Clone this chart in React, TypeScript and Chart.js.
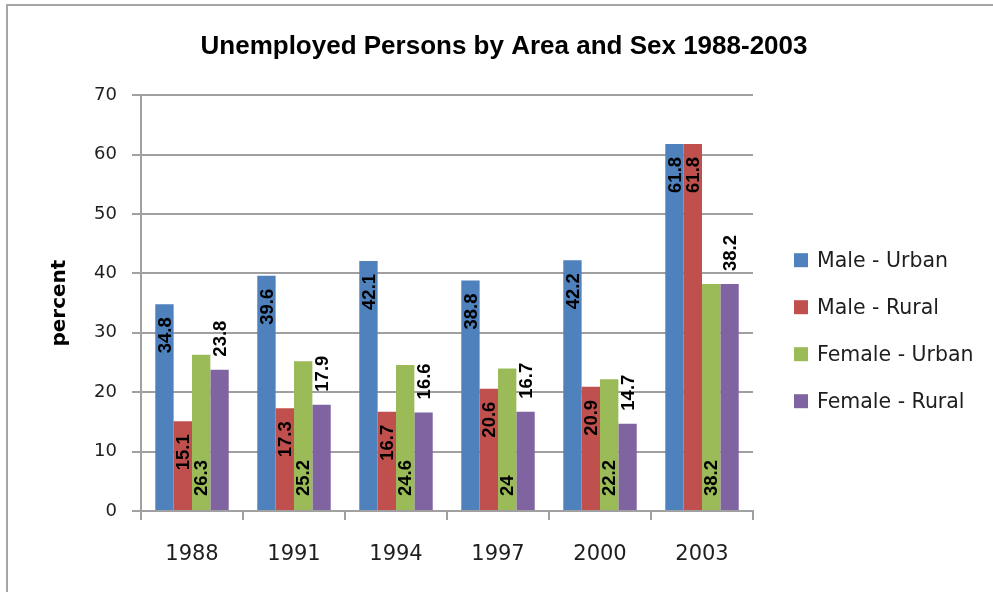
import React, { useEffect, useRef } from 'react';
import { Chart, registerables } from 'chart.js';

Chart.register(...registerables);

const years = ['1988', '1991', '1994', '1997', '2000', '2003'];
const maleUrban = [34.8, 39.6, 42.1, 38.8, 42.2, 61.8];
const maleRural = [15.1, 17.3, 16.7, 20.6, 20.9, 61.8];
const femaleUrban = [26.3, 25.2, 24.6, 24, 22.2, 38.2];
const femaleRural = [23.8, 17.9, 16.6, 16.7, 14.7, 38.2];
const seriesNames = ['Male - Urban', 'Male - Rural', 'Female - Urban', 'Female - Rural'];
const seriesValues = [maleUrban, maleRural, femaleUrban, femaleRural];
const seriesColors = ['#4F81BD', '#C0504D', '#9BBB59', '#8064A2'];
const labelPlacement = ['insideEnd', 'insideEnd', 'insideBase', 'outsideEnd'];
const yTicks = [0, 10, 20, 30, 40, 50, 60, 70];

const GRID = '#a0a0a0';
const TEXT = '#1e1e1e';

const barLabelPlugin = {
  id: 'barLabels',
  afterDatasetsDraw(chart: any) {
    const { ctx } = chart;
    ctx.save();
    ctx.font = 'bold 18.5px "Liberation Sans", Arial, sans-serif';
    ctx.fillStyle = '#000';
    ctx.textBaseline = 'middle';
    chart.data.datasets.forEach((ds: any, di: number) => {
      const meta = chart.getDatasetMeta(di);
      const mode = labelPlacement[di];
      meta.data.forEach((bar: any, i: number) => {
        const v = ds.data[i];
        const text = String(v);
        let anchorY: number;
        let align: CanvasTextAlign;
        if (mode === 'insideEnd') {
          anchorY = bar.y + 13;
          align = 'right';
        } else if (mode === 'insideBase') {
          anchorY = bar.base - 14;
          align = 'left';
        } else {
          anchorY = bar.y - 13;
          align = 'left';
        }
        ctx.save();
        ctx.translate(bar.x, anchorY);
        ctx.rotate(-Math.PI / 2);
        ctx.textAlign = align;
        ctx.fillText(text, 0, 1);
        ctx.restore();
      });
    });
    ctx.restore();
  },
};

const sideLegendPlugin = {
  id: 'sideLegend',
  afterDraw(chart: any) {
    const { ctx, chartArea } = chart;
    const x0 = chartArea.right + 41;
    const y0 = chartArea.top + 165;
    const gap = 47;
    ctx.save();
    ctx.font = '20.5px "DejaVu Sans", sans-serif';
    ctx.textBaseline = 'middle';
    ctx.textAlign = 'left';
    chart.data.datasets.forEach((ds: any, i: number) => {
      const cy = y0 + i * gap;
      ctx.fillStyle = ds.backgroundColor;
      ctx.fillRect(x0, cy - 7, 14, 14);
      ctx.fillStyle = TEXT;
      ctx.fillText(ds.label, x0 + 23, cy + 1);
    });
    ctx.restore();
  },
};

export default function App() {
  const canvasRef = useRef<HTMLCanvasElement | null>(null);

  useEffect(() => {
    document.body.style.margin = '0';
    const canvas = canvasRef.current;
    if (!canvas) return;
    const chart = new Chart(canvas, {
      type: 'bar',
      data: {
        labels: years,
        datasets: seriesNames.map((name, i) => ({
          label: name,
          data: seriesValues[i],
          backgroundColor: seriesColors[i],
          borderWidth: 0,
          categoryPercentage: 0.72,
          barPercentage: 1.0,
          yAxisID: 'y',
        })),
      },
      options: {
        animation: false,
        responsive: false,
        maintainAspectRatio: false,
        devicePixelRatio: 1,
        layout: { padding: { left: 15, right: 0, top: 0, bottom: 0 } },
        plugins: {
          legend: { display: false },
          tooltip: { enabled: false },
          title: {
            display: true,
            text: 'Unemployed Persons by Area and Sex 1988-2003',
            color: '#000',
            font: { family: '"Liberation Sans", Arial, sans-serif', size: 26, weight: 'bold' },
            padding: { top: 31, bottom: 33 },
          },
        },
        scales: {
          x: {
            grid: {
              offset: true,
              drawOnChartArea: false,
              drawTicks: true,
              tickLength: 9,
              color: GRID,
              lineWidth: 2,
            },
            border: { display: true, color: GRID, width: 2 },
            ticks: {
              color: TEXT,
              font: { family: '"DejaVu Sans", sans-serif', size: 21 },
              padding: 22,
              maxRotation: 0,
            },
            afterFit: (scale: any) => {
              scale.height = 81;
            },
          },
          y: {
            position: 'left',
            min: 0,
            max: 70,
            afterBuildTicks: (scale: any) => {
              scale.ticks = yTicks.map((v) => ({ value: v }));
            },
            grid: {
              color: GRID,
              lineWidth: 2,
              drawTicks: true,
              tickLength: 9,
            },
            border: { display: true, color: GRID, width: 2 },
            ticks: {
              color: TEXT,
              font: { family: '"DejaVu Sans", sans-serif', size: 18 },
              padding: 15,
            },
            title: {
              display: true,
              text: 'percent',
              color: '#000',
              font: { family: '"DejaVu Sans", sans-serif', size: 20, weight: 'bold' },
              padding: { top: 33, bottom: 0 },
            },
            afterFit: (scale: any) => {
              scale.width = 126;
            },
          },
          legendSpace: {
            position: 'right',
            display: true,
            min: 0,
            max: 70,
            grid: { display: false, drawTicks: false },
            border: { display: false },
            ticks: { display: false },
            afterFit: (scale: any) => {
              scale.width = 240;
            },
          },
        },
      },
      plugins: [barLabelPlugin, sideLegendPlugin],
    });
    return () => chart.destroy();
  }, []);

  return (
    <div style={{ position: 'fixed', left: 0, top: 0, width: 993, height: 592, background: '#fff', overflow: 'hidden' }}>
      <canvas ref={canvasRef} width={993} height={592} style={{ position: 'absolute', left: 0, top: 0, width: 993, height: 592 }} />
      <div
        style={{
          position: 'absolute',
          left: 6,
          top: 4,
          width: 987,
          height: 588,
          boxSizing: 'border-box',
          borderLeft: '2px solid #a6a6a6',
          borderTop: '2px solid #a6a6a6',
          pointerEvents: 'none',
        }}
      />
    </div>
  );
}
